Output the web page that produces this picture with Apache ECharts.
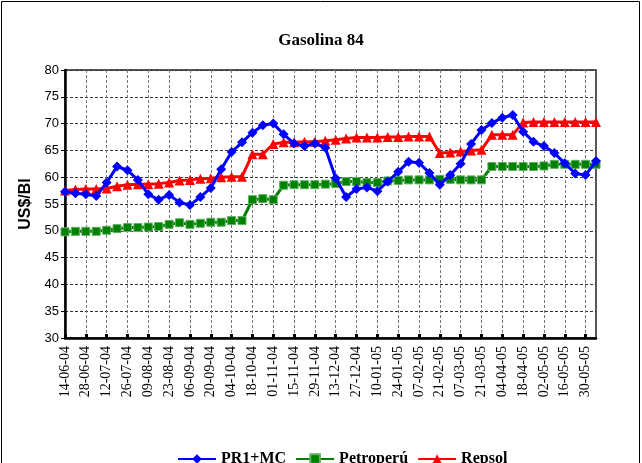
<!DOCTYPE html>
<html>
<head>
<meta charset="utf-8">
<script src="https://cdn.jsdelivr.net/npm/echarts@6/dist/echarts.min.js"></script>
<style>
  html, body { margin: 0; padding: 0; background: #fff; }
  #chart { width: 642px; height: 463px; }
</style>
</head>
<body>
<div id="chart"></div>
<script>
// semanas (lunes) de 14-06-04 a 06-06-05
const fechas = [
  '14-06-04', '21-06-04', '28-06-04', '05-07-04', '12-07-04', '19-07-04', '26-07-04', '02-08-04',
  '09-08-04', '16-08-04', '23-08-04', '30-08-04', '06-09-04', '13-09-04', '20-09-04', '27-09-04',
  '04-10-04', '11-10-04', '18-10-04', '25-10-04', '01-11-04', '08-11-04', '15-11-04', '22-11-04',
  '29-11-04', '06-12-04', '13-12-04', '20-12-04', '27-12-04', '03-01-05', '10-01-05', '17-01-05',
  '24-01-05', '31-01-05', '07-02-05', '14-02-05', '21-02-05', '28-02-05', '07-03-05', '14-03-05',
  '21-03-05', '28-03-05', '04-04-05', '11-04-05', '18-04-05', '25-04-05', '02-05-05', '09-05-05',
  '16-05-05', '23-05-05', '30-05-05', '06-06-05'
]

const pr1mc = [
  57.3, 57.0, 56.8, 56.5, 59.0, 62.0, 61.3, 59.5, 56.8, 55.8, 56.7, 55.3, 54.8,
  56.3, 58.0, 61.5, 64.7, 66.5, 68.3, 69.7, 70.0, 68.0, 66.3, 65.8, 66.3, 65.5,
  59.8, 56.3, 57.8, 58.1, 57.4, 59.2, 61.0, 62.9, 62.7, 60.8, 58.6, 60.4, 62.5,
  66.2, 68.8, 70.1, 71.1, 71.6, 68.5, 66.6, 65.8, 64.5, 62.6, 60.7, 60.4, 63.0
]

const petroperu = [
  49.8, 49.9, 49.9, 49.9, 50.1, 50.4, 50.6, 50.6, 50.7, 50.8, 51.2, 51.5, 51.2,
  51.4, 51.6, 51.6, 51.9, 51.9, 55.8, 56.0, 55.8, 58.5, 58.6, 58.6, 58.6, 58.7,
  58.8, 59.2, 59.2, 59.0, 59.0, 59.3, 59.4, 59.5, 59.5, 59.5, 59.6, 59.6, 59.5,
  59.5, 59.5, 62.0, 62.0, 62.0, 62.0, 62.0, 62.1, 62.4, 62.4, 62.4, 62.4, 62.4
]

const repsol = [
  57.5, 57.7, 57.8, 57.8, 57.9, 58.3, 58.6, 58.7, 58.7, 58.8, 59.0, 59.4, 59.5,
  59.7, 59.8, 60.0, 60.1, 60.1, 64.3, 64.3, 66.2, 66.5, 66.5, 66.6, 66.6, 66.8,
  67.0, 67.2, 67.4, 67.4, 67.4, 67.5, 67.5, 67.6, 67.6, 67.6, 64.5, 64.6, 64.8,
  65.0, 65.1, 67.9, 67.9, 67.9, 70.2, 70.3, 70.3, 70.3, 70.3, 70.3, 70.3, 70.3
]

const chart = echarts.init(document.getElementById('chart'))

const serif = 'Liberation Serif'
const sans = 'Liberation Sans'

const option = {
  animation: false,
  backgroundColor: '#fff',
  graphic: [{
    type: 'rect',
    shape: { x: 1.5, y: 1.5, width: 638, height: 480 },
    style: { fill: 'none', stroke: '#000', lineWidth: 1 }
  }],
  title: {
    text: 'Gasolina 84',
    left: 'center',
    top: 27,
    textStyle: { fontFamily: serif, fontWeight: 'bold', fontSize: 17, color: '#000' }
  },
  legend: {
    bottom: -9,
    left: 172,
    itemWidth: 38,
    itemHeight: 12,
    itemGap: 9,
    textStyle: { fontFamily: serif, fontWeight: 'bold', fontSize: 16, color: '#000' },
    data: ['PR1+MC', 'Petroperú', 'Repsol']
  },
  grid: {
    left: 65, right: 46, top: 70, bottom: 125,
    show: true, borderColor: '#222', borderWidth: 1.5
  },
  xAxis: {
    type: 'category',
    data: fechas,
    boundaryGap: false,
    axisLine: { lineStyle: { color: '#000', width: 2.5 } },
    axisTick: { interval: 1, inside: true, length: 4, lineStyle: { color: '#000', width: 3 } },
    axisLabel: {
      interval: 1, rotate: 90, margin: 8,
      fontFamily: serif, fontSize: 14, color: '#000'
    },
    splitLine: { show: true, interval: 1, lineStyle: { color: '#777', type: [3, 2], width: 1 } }
  },
  yAxis: {
    type: 'value',
    min: 30, max: 80, interval: 5,
    name: 'US$/Bl',
    nameLocation: 'middle',
    nameGap: 31,
    nameTextStyle: { fontFamily: sans, fontWeight: 'bold', fontSize: 16, color: '#000' },
    axisLine: { show: true, lineStyle: { color: '#000', width: 2.5 } },
    axisTick: { show: true, length: 4, lineStyle: { color: '#000', width: 1 } },
    axisLabel: { margin: 6, fontFamily: sans, fontSize: 13, color: '#000' },
    splitLine: { lineStyle: { color: '#333', type: [3, 2], width: 1.2 } }
  },
  series: [
    {
      name: 'PR1+MC', type: 'line', data: pr1mc,
      symbol: 'diamond', symbolSize: 10, showAllSymbol: true,
      lineStyle: { color: '#0000ff', width: 3 },
      itemStyle: { color: '#0000ff' },
      z: 4
    },
    {
      name: 'Petroperú', type: 'line', data: petroperu,
      symbol: 'rect', symbolSize: 8, showAllSymbol: true,
      lineStyle: { color: '#008000', width: 3 },
      itemStyle: { color: '#008000', borderColor: '#5fb05f', borderWidth: 1 },
      z: 3
    },
    {
      name: 'Repsol', type: 'line', data: repsol,
      symbol: 'triangle', symbolSize: 10, showAllSymbol: true,
      lineStyle: { color: '#ff0000', width: 3 },
      itemStyle: { color: '#ff0000' },
      z: 2
    }
  ]
}

chart.setOption(option)
</script>
</body>
</html>
